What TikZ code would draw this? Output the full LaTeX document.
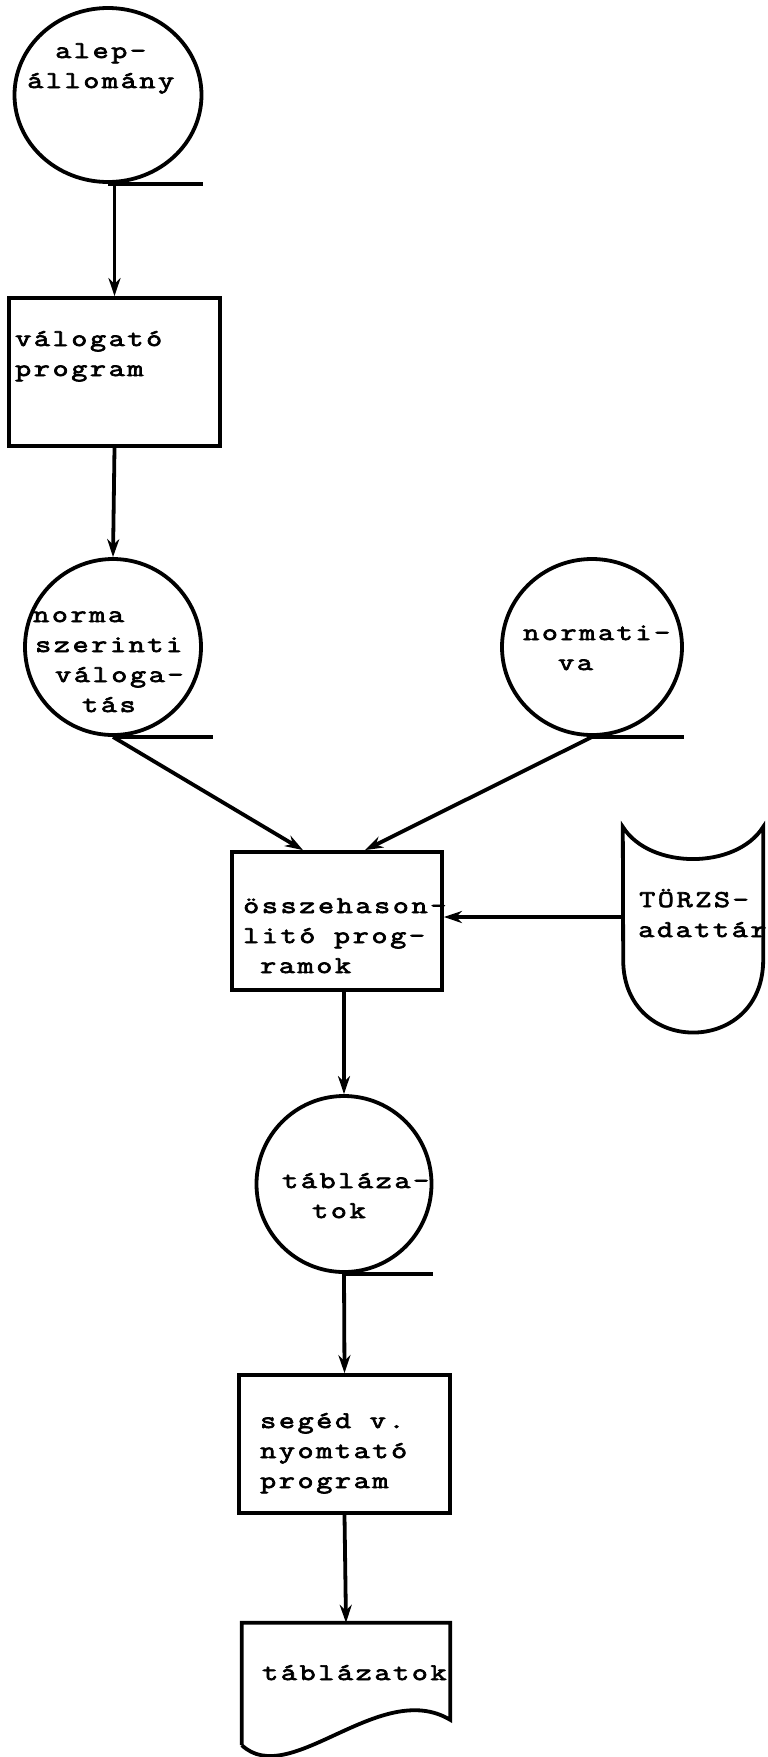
\documentclass[tikz,border=0pt]{standalone}
\usepackage{fontspec}
\newfontfamily\twfont{Latin Modern Mono}[FakeStretch=1.3,LetterSpace=11,FakeBold=3]
\usetikzlibrary{shapes.geometric,arrows.meta}
\tikzset{
  store/.style={draw,ellipse,line width=3.8pt,inner sep=0pt,minimum width=176pt,minimum height=176pt},
  prog/.style={draw,rectangle,line width=3.8pt,inner sep=0pt},
  frame/.style={inner sep=0pt},
  ln/.style={line width=3.8pt},
  flow/.style={line width=3.8pt,-{Stealth[length=18pt,width=12pt]}},
  txt/.style={font=\twfont\fontsize{24pt}{30pt}\selectfont,anchor=base west,inner sep=0pt,align=left},
}
\begin{document}
\begin{tikzpicture}[x=1pt,y=-1pt]
\useasboundingbox (0,0) rectangle (768,1757);
\fill[white] (0,0) rectangle (768,1757);

\node[store,minimum width=187pt,minimum height=174pt] (alep) at (108,95) {};
\node[txt] (alep-t) at (27,88) {\hspace*{28pt}alep-\\állomány};
\draw[ln] (alep.south) -- (alep.south -| alep.east);

\node[prog,minimum width=211pt,minimum height=148pt] (valog) at (114.5,372) {};
\node[txt] (valog-t) at (15,376) {válogató\\program};

\node[store] (norma) at (113,647) {};
\node[txt] (norma-t) at (33,712) {norma\\\hspace*{2pt}szerinti\\\hspace*{22pt}váloga-\\\hspace*{49pt}tás};
\draw[ln] (norma.south) -- ++(100,0);

\node[store,minimum width=180pt,minimum height=176pt] (normativa) at (592,647) {};
\node[txt] (normativa-t) at (523,670) {normati-\\\hspace*{35pt}va};
\draw[ln] (normativa.south) -- (normativa.south -| normativa.east);

\node[prog,minimum width=210pt,minimum height=138pt] (ossze) at (337,921) {};
\node[txt] (ossze-t) at (243,973) {összehason-\\litó prog-\\\hspace*{17pt}ramok};

\node[frame,minimum width=140pt,minimum height=206pt] (torzs) at (693,930) {};
\draw[ln] (torzs.north west) .. controls +(27,43) and +(-27,43) .. (torzs.north east)
  -- ++(0,133) .. controls +(0,97) and +(0,97) .. ++(-140,0) -- cycle;
\node[txt] (torzs-t) at (638,937) {\hspace*{1pt}TÖRZS-\\adattár};
\coordinate (torzs-in) at (623,917);

\node[store,minimum width=175pt,minimum height=176pt] (tabla) at (344,1184) {};
\node[txt] (tabla-t) at (282,1218) {tábláza-\\\hspace*{30pt}tok};
\draw[ln] (tabla.south) -- (tabla.south -| tabla.east);

\node[prog,minimum width=211pt,minimum height=138pt] (seged) at (344.5,1444) {};
\node[txt] (seged-t) at (260,1488) {segéd v.\\nyomtató\\program};

\node[frame,minimum width=208pt,minimum height=122pt] (doc) at (346,1684) {};
\draw[ln] (doc.south west) -- (doc.north west) -- (doc.north east) -- ++(0,97)
  .. controls +(-70,-42) and +(48,45) .. (doc.south west);
\node[txt] (doc-t) at (262,1680) {táblázatok};

\draw[flow] (valog.north |- alep.south) -- (valog.north);
\draw[flow] (valog.south) -- (norma.north);
\draw[flow] (norma.south) -- ([xshift=-34pt]ossze.north);
\draw[flow] (normativa.south) -- ([xshift=28pt]ossze.north);
\draw[flow] (torzs-in) -- (ossze.east |- torzs-in);
\draw[flow] (tabla.north |- ossze.south) -- (tabla.north);
\draw[flow] (tabla.south) -- (seged.north);
\draw[flow] (seged.south) -- (doc.north);
\end{tikzpicture}
\end{document}
